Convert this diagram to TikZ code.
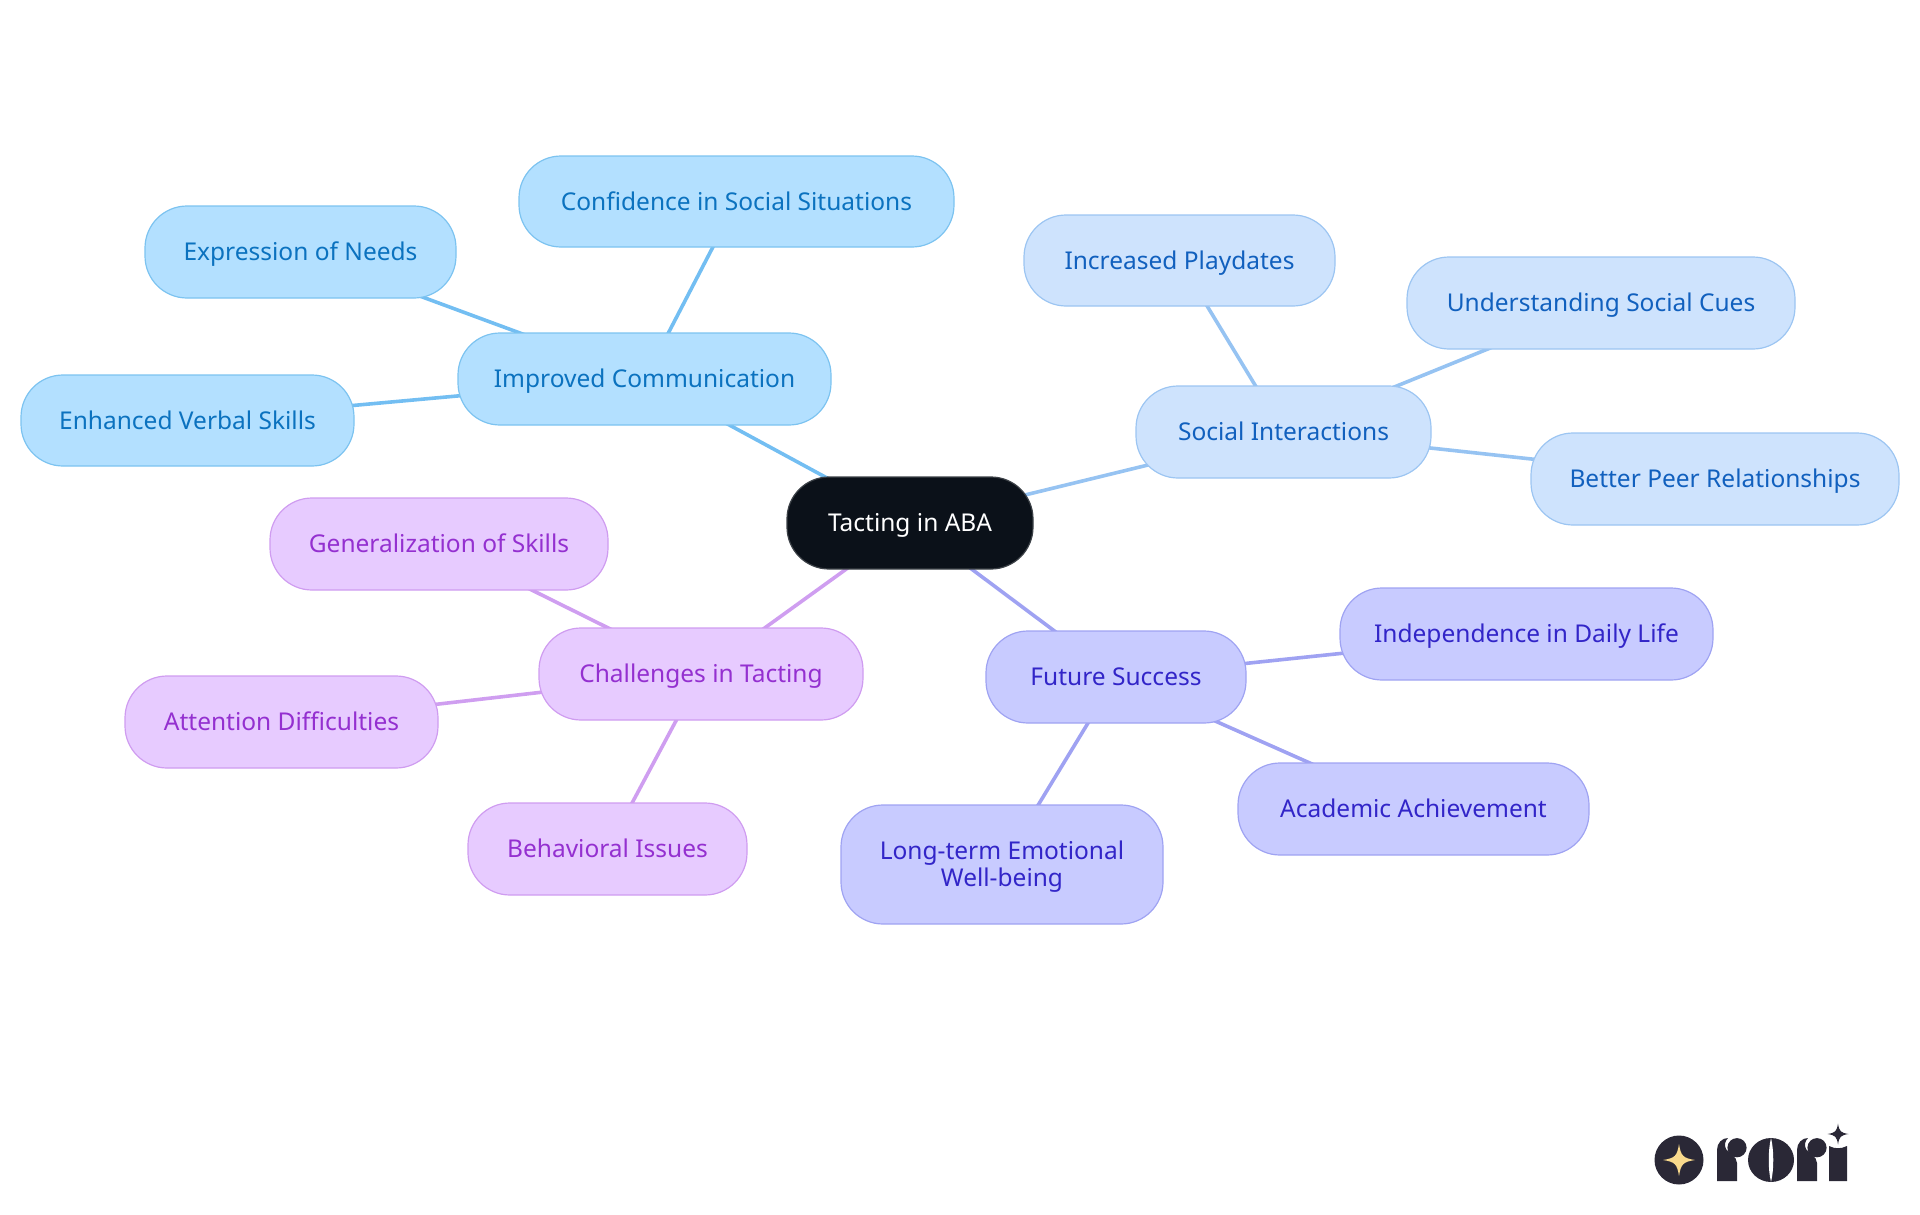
\documentclass[tikz,border=0pt]{standalone}
\usepackage{fontspec}
\setmainfont{Noto Sans}
\usetikzlibrary{backgrounds}
\definecolor{bluefill}{HTML}{B3E0FF}\definecolor{bluedraw}{HTML}{7CC3F0}\definecolor{bluetext}{HTML}{0B72BF}\definecolor{blueline}{HTML}{73BEF2}
\definecolor{skyfill}{HTML}{CEE3FD}\definecolor{skydraw}{HTML}{9CC5F2}\definecolor{skytext}{HTML}{1160BE}\definecolor{skyline}{HTML}{96C3F2}
\definecolor{indfill}{HTML}{C8CBFF}\definecolor{inddraw}{HTML}{9FA3F2}\definecolor{indtext}{HTML}{3225C8}\definecolor{indline}{HTML}{9FA2F2}
\definecolor{purfill}{HTML}{E7CBFF}\definecolor{purdraw}{HTML}{CF9CF0}\definecolor{purtext}{HTML}{9430D0}\definecolor{purline}{HTML}{CF9EF0}
\definecolor{rootfill}{HTML}{0B1119}\definecolor{logodark}{HTML}{2A2836}\definecolor{logostar}{HTML}{F8D98C}
\tikzset{
 x=1pt,y=-1pt,
 mapnode/.style={rounded corners=42pt,line width=1.2pt,align=center,inner sep=0pt,font=\fontsize{24.5}{27}\selectfont},
 rootnode/.style={mapnode,fill=rootfill,draw=rootfill!80!white,text=white},
 bluenode/.style={mapnode,fill=bluefill,draw=bluedraw,text=bluetext},
 skynode/.style={mapnode,fill=skyfill,draw=skydraw,text=skytext},
 indnode/.style={mapnode,fill=indfill,draw=inddraw,text=indtext},
 purnode/.style={mapnode,fill=purfill,draw=purdraw,text=purtext},
 link/.style={line width=3.6pt},
}
\newcommand{\boxnode}[7]{\node[#1,minimum width=#5pt-#3pt,minimum height=#6pt-#4pt] (#2) at ({(#3+#5)/2},{(#4+#6)/2}) {\rule{0pt}{23pt}#7\vphantom{Ag}};}
\newcommand{\fourstar}[4]{\fill[#4] (#1-#3,#2) .. controls (#1-#3*0.25,#2-#3*0.12) and (#1-#3*0.12,#2-#3*0.25) .. (#1,#2-#3) .. controls (#1+#3*0.12,#2-#3*0.25) and (#1+#3*0.25,#2-#3*0.12) .. (#1+#3,#2) .. controls (#1+#3*0.25,#2+#3*0.12) and (#1+#3*0.12,#2+#3*0.25) .. (#1,#2+#3) .. controls (#1-#3*0.12,#2+#3*0.25) and (#1-#3*0.25,#2+#3*0.12) .. (#1-#3,#2) -- cycle;}
\newcommand{\logor}[1]{\fill[logodark] (#1,1181) -- (#1,1150) .. controls (#1,1143) and (#1+5,1138) .. (#1+11,1138) .. controls (#1+8,1141) and (#1+7,1145) .. (#1+9,1149) .. controls (#1+11,1153) and (#1+20,1156) .. (#1+20,1163) -- (#1+20,1181) -- cycle;
\fill[logodark] (#1+20,1147.7) circle[radius=9.6];}
\begin{document}
\begin{tikzpicture}
\useasboundingbox (0,0) rectangle (1920,1215);
\boxnode{rootnode}{root}{787}{477}{1033}{569}{Tacting in ABA}
\boxnode{bluenode}{comm}{458}{333}{831}{425}{Improved Communication}
\boxnode{bluenode}{conf}{519}{156}{954}{247}{Confidence in Social Situations}
\boxnode{bluenode}{expr}{145}{206}{456}{298}{Expression of Needs}
\boxnode{bluenode}{verb}{21}{375}{354}{466}{Enhanced Verbal Skills}
\boxnode{skynode}{soc}{1136}{386}{1431}{478}{Social Interactions}
\boxnode{skynode}{play}{1024}{215}{1335}{306}{Increased Playdates}
\boxnode{skynode}{cues}{1407}{257}{1795}{349}{Understanding Social Cues}
\boxnode{skynode}{peer}{1531}{433}{1899}{525}{Better Peer Relationships}
\boxnode{indnode}{fut}{986}{631}{1246}{723}{Future Success}
\boxnode{indnode}{inde}{1340}{588}{1713}{680}{Independence in Daily Life}
\boxnode{indnode}{acad}{1238}{763}{1589}{855}{Academic Achievement}
\boxnode{indnode}{long}{841}{805}{1163}{924}{Long-term Emotional\\Well-being}
\boxnode{purnode}{chal}{539}{628}{863}{720}{Challenges in Tacting}
\boxnode{purnode}{gene}{270}{498}{608}{590}{Generalization of Skills}
\boxnode{purnode}{atte}{125}{676}{438}{768}{Attention Difficulties}
\boxnode{purnode}{beha}{468}{803}{747}{895}{Behavioral Issues}
\begin{pgfonlayer}{background}
\draw[link,blueline] (root.center) -- (comm.center);
\draw[link,blueline] (comm.center) -- (conf.center);
\draw[link,blueline] (comm.center) -- (expr.center);
\draw[link,blueline] (comm.center) -- (verb.center);
\draw[link,skyline] (root.center) -- (soc.center);
\draw[link,skyline] (soc.center) -- (play.center);
\draw[link,skyline] (soc.center) -- (cues.center);
\draw[link,skyline] (soc.center) -- (peer.center);
\draw[link,indline] (root.center) -- (fut.center);
\draw[link,indline] (fut.center) -- (inde.center);
\draw[link,indline] (fut.center) -- (acad.center);
\draw[link,indline] (fut.center) -- (long.center);
\draw[link,purline] (root.center) -- (chal.center);
\draw[link,purline] (chal.center) -- (gene.center);
\draw[link,purline] (chal.center) -- (atte.center);
\draw[link,purline] (chal.center) -- (beha.center);
\end{pgfonlayer}
% logo
\fill[logodark] (1679,1160) circle[radius=24.5];
\fourstar{1679}{1160}{16}{logostar}
\logor{1717}
\logor{1797}
\fill[logodark] (1771,1160) ellipse[x radius=23,y radius=22];
\fill[white] (1771,1138) .. controls (1768,1150) and (1768,1170) .. (1771,1182) .. controls (1774,1170) and (1774,1150) .. (1771,1138) -- cycle;
\fill[logodark] (1829,1181) -- (1829,1146) .. controls (1835,1149) and (1841,1149) .. (1847,1146) -- (1847,1181) -- cycle;
\fourstar{1838}{1134}{10.5}{logodark}
\end{tikzpicture}
\end{document}
